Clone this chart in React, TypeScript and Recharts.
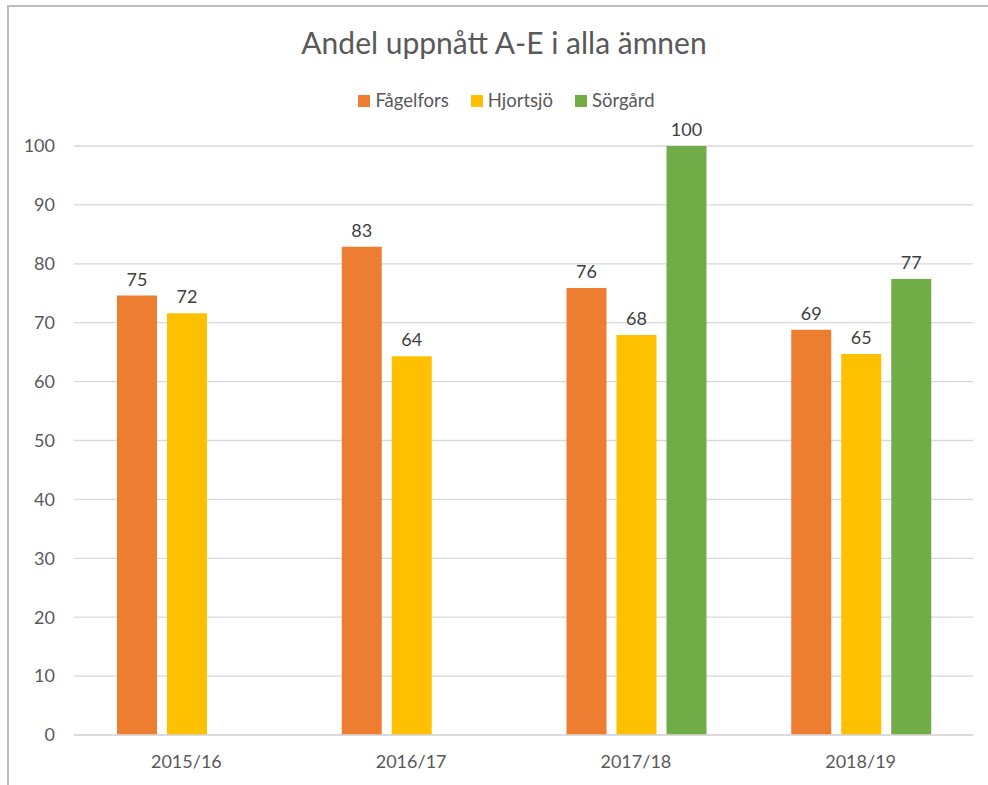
import React from 'react';
import { BarChart, Bar, XAxis, YAxis, CartesianGrid, Legend, LabelList } from 'recharts';

// Share of pupils reaching grade A-E in all subjects, per school and school year
const categories = ['2015/16', '2016/17', '2017/18', '2018/19'];
const fagelfors = [74.6, 82.9, 75.9, 68.8];
const hjortsjo = [71.6, 64.3, 67.9, 64.7];
const sorgard: (number | null)[] = [null, null, 100, 77.4];
const yTicks = [0, 10, 20, 30, 40, 50, 60, 70, 80, 90, 100];

const series = [
  { key: 'fagelfors', name: 'Fågelfors', color: '#ED7D31' },
  { key: 'hjortsjo', name: 'Hjortsjö', color: '#FFC000' },
  { key: 'sorgard', name: 'Sörgård', color: '#70AD47' },
];

const data = categories.map((year, i) => ({
  year,
  fagelfors: fagelfors[i],
  hjortsjo: hjortsjo[i],
  sorgard: sorgard[i],
}));

const FONT = 'Lato, "Open Sans", sans-serif';

const roundLabel = (v: any) => (v == null ? '' : Math.round(Number(v)));

const LegendContent = () => (
  <div
    style={{
      display: 'flex',
      justifyContent: 'center',
      paddingLeft: 40,
      fontFamily: FONT,
      fontSize: 18.5,
      color: '#595959',
      lineHeight: '21px',
    }}
  >
    {series.map((s) => (
      <div key={s.key} style={{ display: 'flex', alignItems: 'center', margin: '0 11px' }}>
        <span style={{ width: 12, height: 12, background: s.color, marginRight: 5, display: 'inline-block' }} />
        <span>{s.name}</span>
      </div>
    ))}
  </div>
);

export default function App() {
  return (
    <div style={{ position: 'absolute', left: 0, top: 0, width: 988, height: 785, overflow: 'hidden', background: '#fff' }}>
      <div
        style={{
          position: 'absolute',
          left: 7,
          top: 5,
          width: 1000,
          height: 800,
          border: '2px solid #bdbdbd',
        }}
      />
      <div
        style={{
          position: 'absolute',
          left: 10,
          top: 24,
          width: 988,
          textAlign: 'center',
          fontFamily: FONT,
          fontSize: 30,
          color: '#595959',
        }}
      >
        Andel uppnått A-E i alla ämnen
      </div>
      <BarChart
        width={988}
        height={785}
        data={data}
        margin={{ top: 125, right: 15, left: 0, bottom: 20 }}
        barCategoryGap={43}
        barGap={10}
        style={{ position: 'absolute', left: 0, top: 0 }}
      >
        <CartesianGrid vertical={false} stroke="#d9d9d9" strokeWidth={1.3} />
        <XAxis
          dataKey="year"
          axisLine={{ stroke: '#d9d9d9', strokeWidth: 1.5 }}
          tickLine={false}
          tickSize={0}
          tickMargin={20}
          height={30}
          tick={{ fill: '#595959', fontSize: 18, fontFamily: FONT }}
        />
        <YAxis
          domain={[0, 100]}
          ticks={yTicks}
          interval={0}
          width={74}
          axisLine={false}
          tickLine={false}
          tickSize={0}
          tickMargin={19}
          tick={{ fill: '#595959', fontSize: 18, fontFamily: FONT }}
        />
        <Legend verticalAlign="top" align="center" wrapperStyle={{ top: 90 }} content={<LegendContent />} />
        {series.map((s) => (
          <Bar key={s.key} dataKey={s.key} name={s.name} fill={s.color} isAnimationActive={false}>
            <LabelList
              dataKey={s.key}
              position="top"
              offset={10}
              formatter={roundLabel}
              style={{ fill: '#404040', fontSize: 18, fontFamily: FONT }}
            />
          </Bar>
        ))}
      </BarChart>
    </div>
  );
}
